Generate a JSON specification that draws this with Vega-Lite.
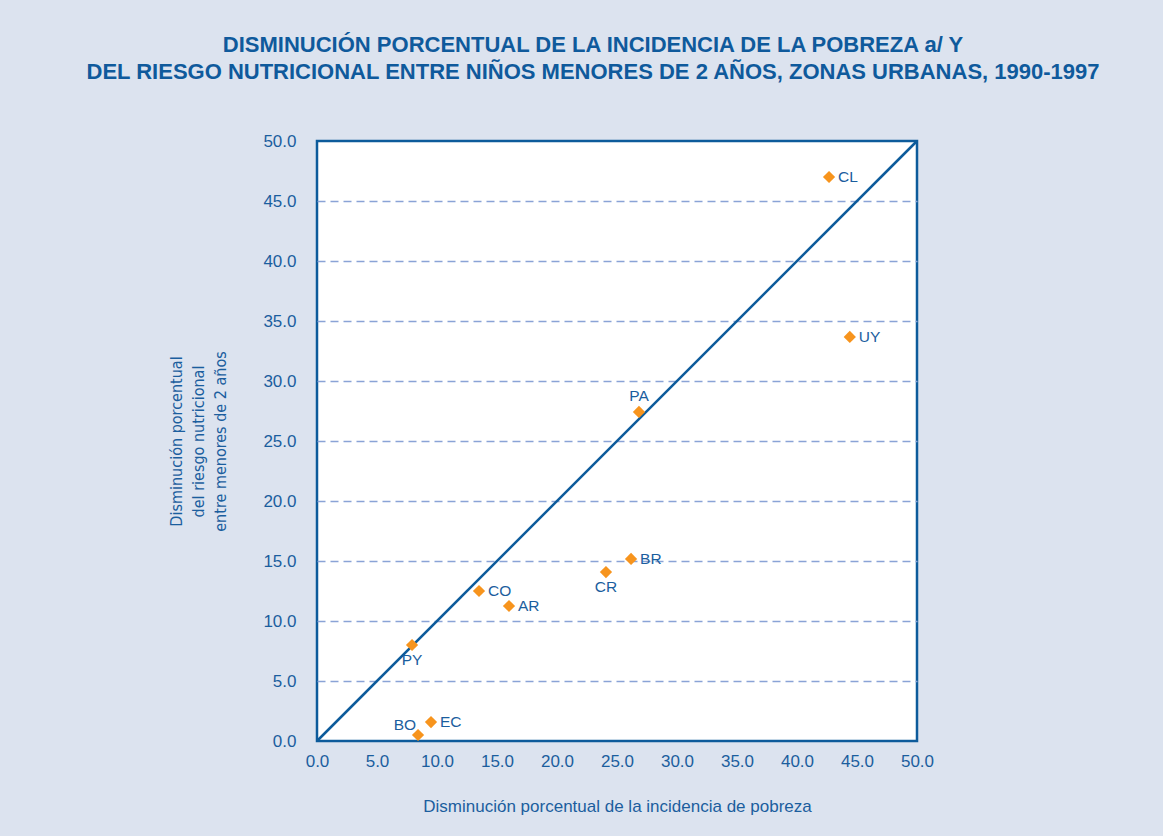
{
  "$schema": "https://vega.github.io/schema/vega-lite/v6.json",
  "width": 600,
  "height": 600,
  "autosize": {"type": "none"},
  "padding": {"left": 317, "top": 141, "right": 246, "bottom": 95},
  "background": "#dce3ef",
  "config": {
    "view": {"stroke": "#0d5b9b", "strokeWidth": 2.5, "fill": "white"},
    "font": "Liberation Sans",
    "axis": {
      "domain": false,
      "ticks": false,
      "labelColor": "#1b5e9e",
      "labelFontSize": 17,
      "labelFont": "Liberation Sans",
      "titleColor": "#1b5e9e",
      "titleFontWeight": "normal"
    }
  },
  "title": {
    "text": [
      "DISMINUCIÓN PORCENTUAL DE LA INCIDENCIA DE LA POBREZA a/ Y",
      "DEL RIESGO NUTRICIONAL ENTRE NIÑOS MENORES DE 2 AÑOS, ZONAS URBANAS, 1990-1997"
    ],
    "anchor": "middle",
    "fontSize": 22,
    "fontWeight": "bold",
    "font": "Liberation Sans",
    "color": "#0f5a9c",
    "lineHeight": 27,
    "offset": 48,
    "dx": -24
  },
  "datasets": {
    "pts": [
      {"pais": "CL", "pobreza": 42.67, "riesgo": 47.0},
      {"pais": "UY", "pobreza": 44.4, "riesgo": 33.67},
      {"pais": "PA", "pobreza": 26.83, "riesgo": 27.42},
      {"pais": "BR", "pobreza": 26.17, "riesgo": 15.17},
      {"pais": "CR", "pobreza": 24.08, "riesgo": 14.08},
      {"pais": "CO", "pobreza": 13.5, "riesgo": 12.5},
      {"pais": "AR", "pobreza": 16.0, "riesgo": 11.25},
      {"pais": "PY", "pobreza": 7.92, "riesgo": 8.0},
      {"pais": "EC", "pobreza": 9.5, "riesgo": 1.58},
      {"pais": "BO", "pobreza": 8.42, "riesgo": 0.5}
    ],
    "diag": [
      {"pobreza": 0, "riesgo": 0},
      {"pobreza": 50, "riesgo": 50}
    ]
  },
  "encoding": {
    "x": {
      "field": "pobreza",
      "type": "quantitative",
      "scale": {"domain": [0, 50], "nice": false, "zero": true},
      "axis": {
        "values": [0, 5, 10, 15, 20, 25, 30, 35, 40, 45, 50],
        "format": ".1f",
        "grid": false,
        "labelPadding": 12,
        "labelFlush": false,
        "title": "Disminución porcentual de la incidencia de pobreza",
        "titleFontSize": 17,
        "titlePadding": 29
      }
    },
    "y": {
      "field": "riesgo",
      "type": "quantitative",
      "scale": {"domain": [0, 50], "nice": false, "zero": true},
      "axis": {
        "values": [0, 5, 10, 15, 20, 25, 30, 35, 40, 45, 50],
        "format": ".1f",
        "grid": true,
        "gridColor": "#8aa3d6",
        "gridDash": [8, 5],
        "gridWidth": 1.3,
        "gridOpacity": {"condition": {"test": "datum.value === 0 || datum.value === 50", "value": 0}, "value": 1},
        "labelPadding": 21,
        "labelFlush": false,
        "title": ["Disminución porcentual", "del riesgo nutricional", "entre menores de 2 años"],
        "titleFont": "DejaVu Sans Condensed, Liberation Sans",
        "titleFontSize": 16,
        "titleLineHeight": 22,
        "titlePadding": 34
      }
    }
  },
  "layer": [
    {
      "data": {"name": "diag"},
      "mark": {"type": "line", "color": "#0d5b9b", "strokeWidth": 2.5}
    },
    {
      "data": {"name": "pts"},
      "mark": {"type": "point", "shape": "diamond", "filled": true, "color": "#f7941d", "size": 150, "opacity": 1}
    },
    {
      "data": {"name": "pts"},
      "transform": [{"filter": {"field": "pais", "oneOf": ["CL", "UY", "BR", "CO", "AR", "EC"]}}],
      "mark": {"type": "text", "align": "left", "baseline": "middle", "dx": 9, "fontSize": 15.5, "color": "#1b5e9e"},
      "encoding": {"text": {"field": "pais"}}
    },
    {
      "data": {"name": "pts"},
      "transform": [{"filter": {"field": "pais", "oneOf": ["PA"]}}],
      "mark": {"type": "text", "align": "center", "baseline": "middle", "dy": -16, "fontSize": 15.5, "color": "#1b5e9e"},
      "encoding": {"text": {"field": "pais"}}
    },
    {
      "data": {"name": "pts"},
      "transform": [{"filter": {"field": "pais", "oneOf": ["CR", "PY"]}}],
      "mark": {"type": "text", "align": "center", "baseline": "middle", "dy": 15, "fontSize": 15.5, "color": "#1b5e9e"},
      "encoding": {"text": {"field": "pais"}}
    },
    {
      "data": {"name": "pts"},
      "transform": [{"filter": {"field": "pais", "oneOf": ["BO"]}}],
      "mark": {"type": "text", "align": "right", "baseline": "middle", "dx": -2, "dy": -10, "fontSize": 15.5, "color": "#1b5e9e"},
      "encoding": {"text": {"field": "pais"}}
    }
  ]
}
